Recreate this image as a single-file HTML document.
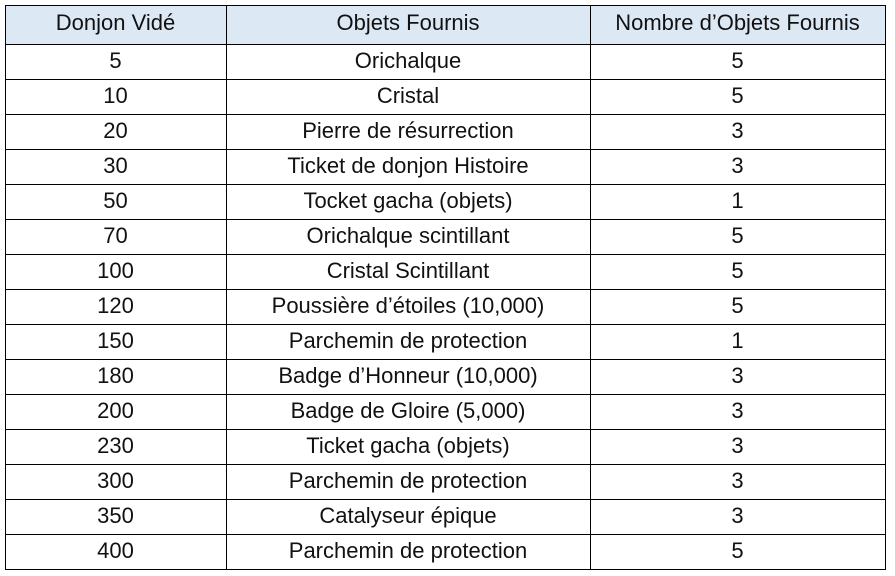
<!DOCTYPE html>
<html><head><meta charset="utf-8"><style>
body{margin:0;width:895px;height:576px;background:#fff;position:relative;overflow:hidden;font-family:"Liberation Sans",Arial,sans-serif;font-size:22px;color:#111}
.h{position:absolute;left:5px;width:881px;height:1px;background:#000}
.v{position:absolute;top:5px;height:565px;width:1px;background:#000}
.c{position:absolute;height:35px;line-height:34px;text-align:center;white-space:nowrap}
</style></head><body>
<div style="position:absolute;left:5px;top:5px;width:881px;height:39px;background:#dde8f5"></div>
<div id="lines"></div>
<div id="cells"></div>
<script>
var L=document.getElementById('lines'),C=document.getElementById('cells'),s='';
var ys=[5,44];for(var i=1;i<=15;i++)ys.push(44+i*35);
ys.forEach(function(y){s+='<div class="h" style="top:'+y+'px"></div>';});
[5,226,590,885].forEach(function(x){s+='<div class="v" style="left:'+x+'px"></div>';});
L.innerHTML=s;
var rows=[["Donjon Vidé","Objets Fournis","Nombre d’Objets Fournis"],
["5","Orichalque","5"],["10","Cristal","5"],["20","Pierre de résurrection","3"],["30","Ticket de donjon Histoire","3"],["50","Tocket gacha (objets)","1"],["70","Orichalque scintillant","5"],["100","Cristal Scintillant","5"],["120","Poussière d’étoiles (10,000)","5"],["150","Parchemin de protection","1"],["180","Badge d’Honneur (10,000)","3"],["200","Badge de Gloire (5,000)","3"],["230","Ticket gacha (objets)","3"],["300","Parchemin de protection","3"],["350","Catalyseur épique","3"],["400","Parchemin de protection","5"]];
var cx=[[5,221],[226,364],[590,295]];s='';
rows.forEach(function(r,i){var top=(i==0?5:44+(i-1)*35)-1;var h=i==0?38:35;
r.forEach(function(t,j){s+='<div class="c" style="left:'+cx[j][0]+'px;width:'+cx[j][1]+'px;top:'+top+'px;height:'+h+'px;line-height:'+h+'px">'+t+'</div>';});});
C.innerHTML=s;
</script>
</body></html>
